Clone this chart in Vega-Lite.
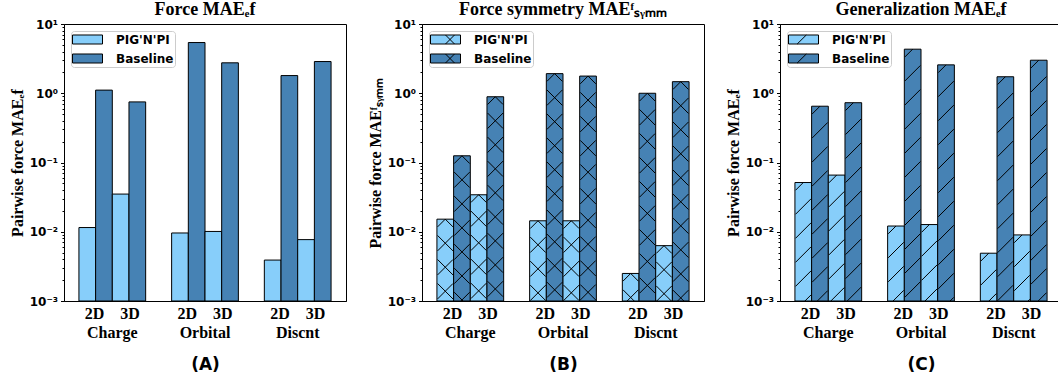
{
  "$schema": "https://vega.github.io/schema/vega-lite/v6.json",
  "background": "white",
  "padding": {"left": 8, "top": 0, "right": 0, "bottom": 0},
  "data": {"values": [
    {"panel": "A", "group": "Charge", "dim": "2D", "series": "PIG'N'PI", "value": 0.0115},
    {"panel": "A", "group": "Charge", "dim": "2D", "series": "Baseline", "value": 1.11},
    {"panel": "A", "group": "Charge", "dim": "3D", "series": "PIG'N'PI", "value": 0.035},
    {"panel": "A", "group": "Charge", "dim": "3D", "series": "Baseline", "value": 0.75},
    {"panel": "A", "group": "Orbital", "dim": "2D", "series": "PIG'N'PI", "value": 0.0096},
    {"panel": "A", "group": "Orbital", "dim": "2D", "series": "Baseline", "value": 5.4},
    {"panel": "A", "group": "Orbital", "dim": "3D", "series": "PIG'N'PI", "value": 0.0101},
    {"panel": "A", "group": "Orbital", "dim": "3D", "series": "Baseline", "value": 2.75},
    {"panel": "A", "group": "Discnt", "dim": "2D", "series": "PIG'N'PI", "value": 0.0039},
    {"panel": "A", "group": "Discnt", "dim": "2D", "series": "Baseline", "value": 1.8},
    {"panel": "A", "group": "Discnt", "dim": "3D", "series": "PIG'N'PI", "value": 0.0077},
    {"panel": "A", "group": "Discnt", "dim": "3D", "series": "Baseline", "value": 2.87},
    {"panel": "B", "group": "Charge", "dim": "2D", "series": "PIG'N'PI", "value": 0.0152},
    {"panel": "B", "group": "Charge", "dim": "2D", "series": "Baseline", "value": 0.125},
    {"panel": "B", "group": "Charge", "dim": "3D", "series": "PIG'N'PI", "value": 0.0342},
    {"panel": "B", "group": "Charge", "dim": "3D", "series": "Baseline", "value": 0.89},
    {"panel": "B", "group": "Orbital", "dim": "2D", "series": "PIG'N'PI", "value": 0.0144},
    {"panel": "B", "group": "Orbital", "dim": "2D", "series": "Baseline", "value": 1.92},
    {"panel": "B", "group": "Orbital", "dim": "3D", "series": "PIG'N'PI", "value": 0.0144},
    {"panel": "B", "group": "Orbital", "dim": "3D", "series": "Baseline", "value": 1.77},
    {"panel": "B", "group": "Discnt", "dim": "2D", "series": "PIG'N'PI", "value": 0.0025},
    {"panel": "B", "group": "Discnt", "dim": "2D", "series": "Baseline", "value": 1.0},
    {"panel": "B", "group": "Discnt", "dim": "3D", "series": "PIG'N'PI", "value": 0.0063},
    {"panel": "B", "group": "Discnt", "dim": "3D", "series": "Baseline", "value": 1.47},
    {"panel": "C", "group": "Charge", "dim": "2D", "series": "PIG'N'PI", "value": 0.0514},
    {"panel": "C", "group": "Charge", "dim": "2D", "series": "Baseline", "value": 0.65},
    {"panel": "C", "group": "Charge", "dim": "3D", "series": "PIG'N'PI", "value": 0.0658},
    {"panel": "C", "group": "Charge", "dim": "3D", "series": "Baseline", "value": 0.73},
    {"panel": "C", "group": "Orbital", "dim": "2D", "series": "PIG'N'PI", "value": 0.0121},
    {"panel": "C", "group": "Orbital", "dim": "2D", "series": "Baseline", "value": 4.33},
    {"panel": "C", "group": "Orbital", "dim": "3D", "series": "PIG'N'PI", "value": 0.0127},
    {"panel": "C", "group": "Orbital", "dim": "3D", "series": "Baseline", "value": 2.57},
    {"panel": "C", "group": "Discnt", "dim": "2D", "series": "PIG'N'PI", "value": 0.0049},
    {"panel": "C", "group": "Discnt", "dim": "2D", "series": "Baseline", "value": 1.73},
    {"panel": "C", "group": "Discnt", "dim": "3D", "series": "PIG'N'PI", "value": 0.009},
    {"panel": "C", "group": "Discnt", "dim": "3D", "series": "Baseline", "value": 3.0}
  ]},
  "spacing": 19,
  "resolve": {
    "scale": {"color": "independent", "x": "independent", "y": "independent", "xOffset": "independent"},
    "legend": {"color": "independent"},
    "axis": {"x": "independent", "y": "independent"}
  },
  "hconcat": [
    {
      "width": 282, "height": 277,
      "title": {"text": "Force MAEₑf"},
      "transform": [{"filter": "datum.panel == 'A'"}],
      "encoding": {
        "x": {"field": "group", "type": "nominal", "sort": ["Charge", "Orbital", "Discnt"],
          "scale": {"paddingInner": 0.28, "paddingOuter": 0.161},
          "axis": {"title": "(A)"}},
        "y": {"field": "value", "type": "quantitative",
          "scale": {"type": "log", "domain": [0.001, 10], "nice": false},
          "axis": {"title": "Pairwise force MAEₑf"}}
      },
      "layer": [
        {"transform": [{"filter": "datum.dim == '2D'"}],
         "mark": {"type": "bar", "stroke": "black", "strokeWidth": 1},
         "encoding": {
           "y2": {"datum": 0.001},
           "xOffset": {"field": "series", "type": "nominal", "sort": ["PIG'N'PI", "Baseline"], "scale": {"type": "band", "paddingInner": 0, "paddingOuter": 1.153, "align": 0}},
           "color": {"field": "series", "type": "nominal", "sort": ["PIG'N'PI", "Baseline"],
             "scale": {"domain": ["PIG'N'PI", "Baseline"], "range": ["#87CEFA", "#4682B4"]},
             "legend": {"symbolType": "M-1,-0.643H3.286V0.643H-1Z"}}
         }},
        {"transform": [{"filter": "datum.dim == '3D'"}],
         "mark": {"type": "bar", "stroke": "black", "strokeWidth": 1},
         "encoding": {
           "y2": {"datum": 0.001},
           "xOffset": {"field": "series", "type": "nominal", "sort": ["PIG'N'PI", "Baseline"], "scale": {"type": "band", "paddingInner": 0, "paddingOuter": 1.153, "align": 1}},
           "color": {"field": "series", "type": "nominal", "sort": ["PIG'N'PI", "Baseline"],
             "scale": {"domain": ["PIG'N'PI", "Baseline"], "range": ["#87CEFA", "#4682B4"]},
             "legend": {"symbolType": "M-1,-0.643H3.286V0.643H-1Z"}}
         }}
      ],
      "resolve": {"scale": {"xOffset": "independent"}}
    },
    {
      "width": 282, "height": 277,
      "title": {"text": "Force symmetry MAEᶠₛᵧₘₘ"},
      "transform": [{"filter": "datum.panel == 'B'"}],
      "encoding": {
        "x": {"field": "group", "type": "nominal", "sort": ["Charge", "Orbital", "Discnt"],
          "scale": {"paddingInner": 0.28, "paddingOuter": 0.161},
          "axis": {"title": "(B)"}},
        "y": {"field": "value", "type": "quantitative",
          "scale": {"type": "log", "domain": [0.001, 10], "nice": false},
          "axis": {"title": "Pairwise force MAEᶠₛᵧₘₘ"}}
      },
      "layer": [
        {"transform": [{"filter": "datum.dim == '2D'"}],
         "mark": {"type": "bar", "stroke": "black", "strokeWidth": 1},
         "encoding": {
           "y2": {"datum": 0.001},
           "xOffset": {"field": "series", "type": "nominal", "sort": ["PIG'N'PI", "Baseline"], "scale": {"type": "band", "paddingInner": 0, "paddingOuter": 1.153, "align": 0}},
           "color": {"field": "series", "type": "nominal", "sort": ["PIG'N'PI", "Baseline"],
             "scale": {"domain": ["PIG'N'PI", "Baseline"], "range": ["#87CEFA", "#4682B4"]},
             "legend": {"symbolType": "M-1,-0.643H3.286V0.643H-1Z M1.143,-0.643L2.429,0.643M1.143,0.643L2.429,-0.643"}}
         }},
        {"transform": [{"filter": "datum.dim == '3D'"}],
         "mark": {"type": "bar", "stroke": "black", "strokeWidth": 1},
         "encoding": {
           "y2": {"datum": 0.001},
           "xOffset": {"field": "series", "type": "nominal", "sort": ["PIG'N'PI", "Baseline"], "scale": {"type": "band", "paddingInner": 0, "paddingOuter": 1.153, "align": 1}},
           "color": {"field": "series", "type": "nominal", "sort": ["PIG'N'PI", "Baseline"],
             "scale": {"domain": ["PIG'N'PI", "Baseline"], "range": ["#87CEFA", "#4682B4"]},
             "legend": {"symbolType": "M-1,-0.643H3.286V0.643H-1Z M1.143,-0.643L2.429,0.643M1.143,0.643L2.429,-0.643"}}
         }},
        {"transform": [{"filter": "datum.dim == '2D'"}],
         "mark": {"type": "point", "filled": false, "opacity": 1, "stroke": "black", "strokeWidth": 1, "size": 240.25, "clip": true,
           "shape": "M-1,1L0,0L1,1M-1,4.1L1,2.1M-1,2.1L1,4.1M-1,7.2L1,5.2M-1,5.2L1,7.2M-1,10.3L1,8.3M-1,8.3L1,10.3M-1,13.4L1,11.4M-1,11.4L1,13.4M-1,16.5L1,14.5M-1,14.5L1,16.5M-1,19.6L1,17.6M-1,17.6L1,19.6M-1,22.7L1,20.7M-1,20.7L1,22.7M-1,25.8L1,23.8M-1,23.8L1,25.8M-1,28.9L1,26.9M-1,26.9L1,28.9M-1,32L1,30M-1,30L1,32M-1,35.1L1,33.1M-1,33.1L1,35.1M-1,38.2L1,36.2M-1,36.2L1,38.2"},
         "encoding": {
           "xOffset": {"field": "series", "type": "nominal", "sort": ["PIG'N'PI", "Baseline"], "scale": {"type": "band", "paddingInner": 0, "paddingOuter": 1.153, "align": 0}}
         }},
        {"transform": [{"filter": "datum.dim == '3D'"}],
         "mark": {"type": "point", "filled": false, "opacity": 1, "stroke": "black", "strokeWidth": 1, "size": 240.25, "clip": true,
           "shape": "M-1,1L0,0L1,1M-1,4.1L1,2.1M-1,2.1L1,4.1M-1,7.2L1,5.2M-1,5.2L1,7.2M-1,10.3L1,8.3M-1,8.3L1,10.3M-1,13.4L1,11.4M-1,11.4L1,13.4M-1,16.5L1,14.5M-1,14.5L1,16.5M-1,19.6L1,17.6M-1,17.6L1,19.6M-1,22.7L1,20.7M-1,20.7L1,22.7M-1,25.8L1,23.8M-1,23.8L1,25.8M-1,28.9L1,26.9M-1,26.9L1,28.9M-1,32L1,30M-1,30L1,32M-1,35.1L1,33.1M-1,33.1L1,35.1M-1,38.2L1,36.2M-1,36.2L1,38.2"},
         "encoding": {
           "xOffset": {"field": "series", "type": "nominal", "sort": ["PIG'N'PI", "Baseline"], "scale": {"type": "band", "paddingInner": 0, "paddingOuter": 1.153, "align": 1}}
         }}
      ],
      "resolve": {"scale": {"xOffset": "independent"}}
    },
    {
      "width": 282, "height": 277,
      "title": {"text": "Generalization MAEₑf"},
      "transform": [{"filter": "datum.panel == 'C'"}],
      "encoding": {
        "x": {"field": "group", "type": "nominal", "sort": ["Charge", "Orbital", "Discnt"],
          "scale": {"paddingInner": 0.28, "paddingOuter": 0.161},
          "axis": {"title": "(C)"}},
        "y": {"field": "value", "type": "quantitative",
          "scale": {"type": "log", "domain": [0.001, 10], "nice": false},
          "axis": {"title": "Pairwise force MAEₑf"}}
      },
      "layer": [
        {"transform": [{"filter": "datum.dim == '2D'"}],
         "mark": {"type": "bar", "stroke": "black", "strokeWidth": 1},
         "encoding": {
           "y2": {"datum": 0.001},
           "xOffset": {"field": "series", "type": "nominal", "sort": ["PIG'N'PI", "Baseline"], "scale": {"type": "band", "paddingInner": 0, "paddingOuter": 1.153, "align": 0}},
           "color": {"field": "series", "type": "nominal", "sort": ["PIG'N'PI", "Baseline"],
             "scale": {"domain": ["PIG'N'PI", "Baseline"], "range": ["#87CEFA", "#4682B4"]},
             "legend": {"symbolType": "M-1,-0.643H3.286V0.643H-1Z M0.243,0.643L1.543,-0.643"}}
         }},
        {"transform": [{"filter": "datum.dim == '3D'"}],
         "mark": {"type": "bar", "stroke": "black", "strokeWidth": 1},
         "encoding": {
           "y2": {"datum": 0.001},
           "xOffset": {"field": "series", "type": "nominal", "sort": ["PIG'N'PI", "Baseline"], "scale": {"type": "band", "paddingInner": 0, "paddingOuter": 1.153, "align": 1}},
           "color": {"field": "series", "type": "nominal", "sort": ["PIG'N'PI", "Baseline"],
             "scale": {"domain": ["PIG'N'PI", "Baseline"], "range": ["#87CEFA", "#4682B4"]},
             "legend": {"symbolType": "M-1,-0.643H3.286V0.643H-1Z M0.243,0.643L1.543,-0.643"}}
         }},
        {"transform": [{"filter": "datum.dim == '2D'"}],
         "mark": {"type": "point", "filled": false, "opacity": 1, "stroke": "black", "strokeWidth": 1, "size": 240.25, "clip": true,
           "shape": "M-1,1L0,0M-1,4.1L1,2.1M-1,7.2L1,5.2M-1,10.3L1,8.3M-1,13.4L1,11.4M-1,16.5L1,14.5M-1,19.6L1,17.6M-1,22.7L1,20.7M-1,25.8L1,23.8M-1,28.9L1,26.9M-1,32L1,30M-1,35.1L1,33.1M-1,38.2L1,36.2"},
         "encoding": {
           "xOffset": {"field": "series", "type": "nominal", "sort": ["PIG'N'PI", "Baseline"], "scale": {"type": "band", "paddingInner": 0, "paddingOuter": 1.153, "align": 0}}
         }},
        {"transform": [{"filter": "datum.dim == '3D'"}],
         "mark": {"type": "point", "filled": false, "opacity": 1, "stroke": "black", "strokeWidth": 1, "size": 240.25, "clip": true,
           "shape": "M-1,1L0,0M-1,4.1L1,2.1M-1,7.2L1,5.2M-1,10.3L1,8.3M-1,13.4L1,11.4M-1,16.5L1,14.5M-1,19.6L1,17.6M-1,22.7L1,20.7M-1,25.8L1,23.8M-1,28.9L1,26.9M-1,32L1,30M-1,35.1L1,33.1M-1,38.2L1,36.2"},
         "encoding": {
           "xOffset": {"field": "series", "type": "nominal", "sort": ["PIG'N'PI", "Baseline"], "scale": {"type": "band", "paddingInner": 0, "paddingOuter": 1.153, "align": 1}}
         }}
      ],
      "resolve": {"scale": {"xOffset": "independent"}}
    }
  ],
  "config": {
    "view": {"stroke": "black", "strokeWidth": 1},
    "title": {"font": "Liberation Serif", "fontSize": 18, "fontWeight": "bold", "color": "black", "offset": -1, "anchor": "middle"},
    "axisX": {
      "labelAngle": 0, "ticks": false, "domainColor": "black",
      "labelExpr": "['2D\u00a0\u00a0\u00a0\u00a03D', datum.label]",
      "labelFont": "Liberation Serif", "labelFontWeight": "bold", "labelFontSize": 16, "labelLineHeight": 19,
      "labelColor": "black", "labelPadding": 4,
      "titleFont": "DejaVu Sans", "titleFontSize": 17, "titleFontWeight": "bold", "titleColor": "black", "titlePadding": 16
    },
    "axisY": {
      "grid": false,
      "values": [0.001, 0.002, 0.003, 0.004, 0.005, 0.006, 0.007, 0.008, 0.009, 0.01, 0.02, 0.03, 0.04, 0.05, 0.06, 0.07, 0.08, 0.09, 0.1, 0.2, 0.3, 0.4, 0.5, 0.6, 0.7, 0.8, 0.9, 1, 2, 3, 4, 5, 6, 7, 8, 9, 10],
      "labelExpr": "datum.value == 10 ? '10¹' : datum.value == 1 ? '10⁰' : datum.value == 0.1 ? '10⁻¹' : datum.value == 0.01 ? '10⁻²' : datum.value == 0.001 ? '10⁻³' : ''",
      "tickSize": {"condition": {"test": "datum.value == 0.001 || datum.value == 0.01 || datum.value == 0.1 || datum.value == 1 || datum.value == 10", "value": 3.5}, "value": 2},
      "tickColor": "black", "domainColor": "black", "labelOverlap": false, "labelFlush": false,
      "labelFont": "DejaVu Sans", "labelFontWeight": "bold", "labelFontSize": 12, "labelColor": "black", "labelPadding": 3,
      "titleFont": "Liberation Serif", "titleFontSize": 16, "titleFontWeight": "bold", "titleColor": "black", "titlePadding": 4
    },
    "legend": {
      "orient": "top-left", "offset": 7, "title": null,
      "symbolSize": 196, "labelOffset": 29, "rowPadding": 4, "padding": 1,
      "symbolStrokeColor": "black", "symbolStrokeWidth": 1, "symbolOpacity": 1,
      "labelFont": "DejaVu Sans", "labelFontWeight": "bold", "labelFontSize": 12, "labelColor": "black",
      "strokeColor": "#cccccc", "fillColor": "rgba(255,255,255,0.8)", "cornerRadius": 3
    }
  }
}
